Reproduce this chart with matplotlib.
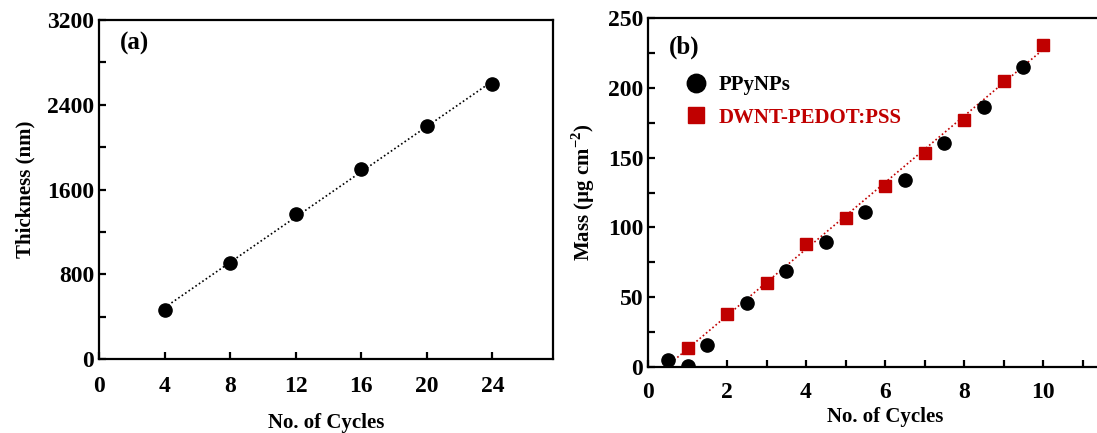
import numpy as np
import matplotlib
matplotlib.use('Agg')
import matplotlib.pyplot as plt
from matplotlib.ticker import MultipleLocator

plt.rcParams['font.family'] = ['Liberation Serif', 'DejaVu Serif']
plt.rcParams['font.weight'] = 'bold'
plt.rcParams['mathtext.fontset'] = 'custom'
plt.rcParams['mathtext.rm'] = 'Liberation Serif'
plt.rcParams['mathtext.bf'] = 'Liberation Serif:bold'

# panel (a) data
cycles_a = [4, 8, 12, 16, 20, 24]
thickness = [462, 903, 1372, 1793, 2197, 2593]

# panel (b) data
cycles_ppy = [0.5, 1.0, 1.5, 2.5, 3.5, 4.5, 5.5, 6.5, 7.5, 8.5, 9.5]
mass_ppy = [5, 1, 15.8, 45.6, 68.8, 89.8, 111.3, 133.7, 160.2, 186.5, 214.7]
cycles_dwnt = [1, 2, 3, 4, 5, 6, 7, 8, 9, 10]
mass_dwnt = [13.4, 38, 60, 88, 106.5, 129.7, 153, 177, 205, 231]

red = '#C00000'

fig = plt.figure(figsize=(10.97, 4.33), dpi=100)
ax1 = fig.add_axes([99 / 1097, 74 / 433, 454 / 1097, 339 / 433])
ax2 = fig.add_axes([648 / 1097, 66 / 433, 474 / 1097, 349 / 433])

# ---- (a)
k, b = np.polyfit(cycles_a, thickness, 1)
xs = np.array([4, 24])
ax1.plot(xs, k * xs + b, ls=(0, (1, 1.5)), color='black', lw=1.2)
ax1.plot(cycles_a, thickness, 'o', color='black', ms=9.5)
ax1.set_xlim(0, 27.7)
ax1.set_ylim(0, 3200)
ax1.xaxis.set_major_locator(MultipleLocator(4))
ax1.yaxis.set_major_locator(MultipleLocator(800))
ax1.yaxis.set_minor_locator(MultipleLocator(400))
ax1.set_xlabel('No. of Cycles', fontsize=15, fontweight='bold', labelpad=12)
ax1.set_ylabel('Thickness (nm)', fontsize=15, fontweight='bold', labelpad=8)
ax1.text(0.045, 0.965, '(a)', transform=ax1.transAxes, fontsize=18,
         fontweight='bold', va='top')

# ---- (b)
k2, b2 = np.polyfit(cycles_dwnt, mass_dwnt, 1)
xs2 = np.array([0.5, 10])
ax2.plot(xs2, k2 * xs2 + b2, ls=(0, (1, 1.5)), color=red, lw=1.2)
ax2.plot(cycles_ppy, mass_ppy, 'o', color='black', ms=9.5, label='PPyNPs')
ax2.plot(cycles_dwnt, mass_dwnt, 's', color=red, ms=8.5, label='DWNT-PEDOT:PSS')
ax2.set_xlim(0, 12)
ax2.set_ylim(0, 250)
ax2.set_xticks([0, 2, 4, 6, 8, 10])
ax2.xaxis.set_minor_locator(MultipleLocator(1))
ax2.yaxis.set_major_locator(MultipleLocator(50))
ax2.yaxis.set_minor_locator(MultipleLocator(25))
ax2.set_xlabel('No. of Cycles', fontsize=15, fontweight='bold', labelpad=3)
ax2.set_ylabel('Mass (µg cm$^{\\mathbf{-2}}$)', fontsize=15, fontweight='bold', labelpad=8)
ax2.text(0.045, 0.95, '(b)', transform=ax2.transAxes, fontsize=18,
         fontweight='bold', va='top')
leg = ax2.legend(loc='upper left', bbox_to_anchor=(0.04, 0.89), frameon=False,
                 fontsize=15, markerscale=1.4, handletextpad=0.6,
                 labelspacing=0.6, handlelength=1.0)
for t, c in zip(leg.get_texts(), ['black', red]):
    t.set_color(c)
    t.set_fontweight('bold')

for ax in (ax1, ax2):
    for s in ax.spines.values():
        s.set_linewidth(1.6)
    ax.tick_params(which='both', direction='in', width=1.6, labelsize=17)
    ax.tick_params(which='major', length=5)
    ax.tick_params(which='minor', length=5)
    ax.tick_params(axis='x', pad=12)
    for lab in ax.get_xticklabels() + ax.get_yticklabels():
        lab.set_fontweight('bold')
ax2.tick_params(axis='x', pad=11)
ax1.tick_params(axis='x', which='minor', bottom=False)

fig.savefig('out.png', dpi=100)
